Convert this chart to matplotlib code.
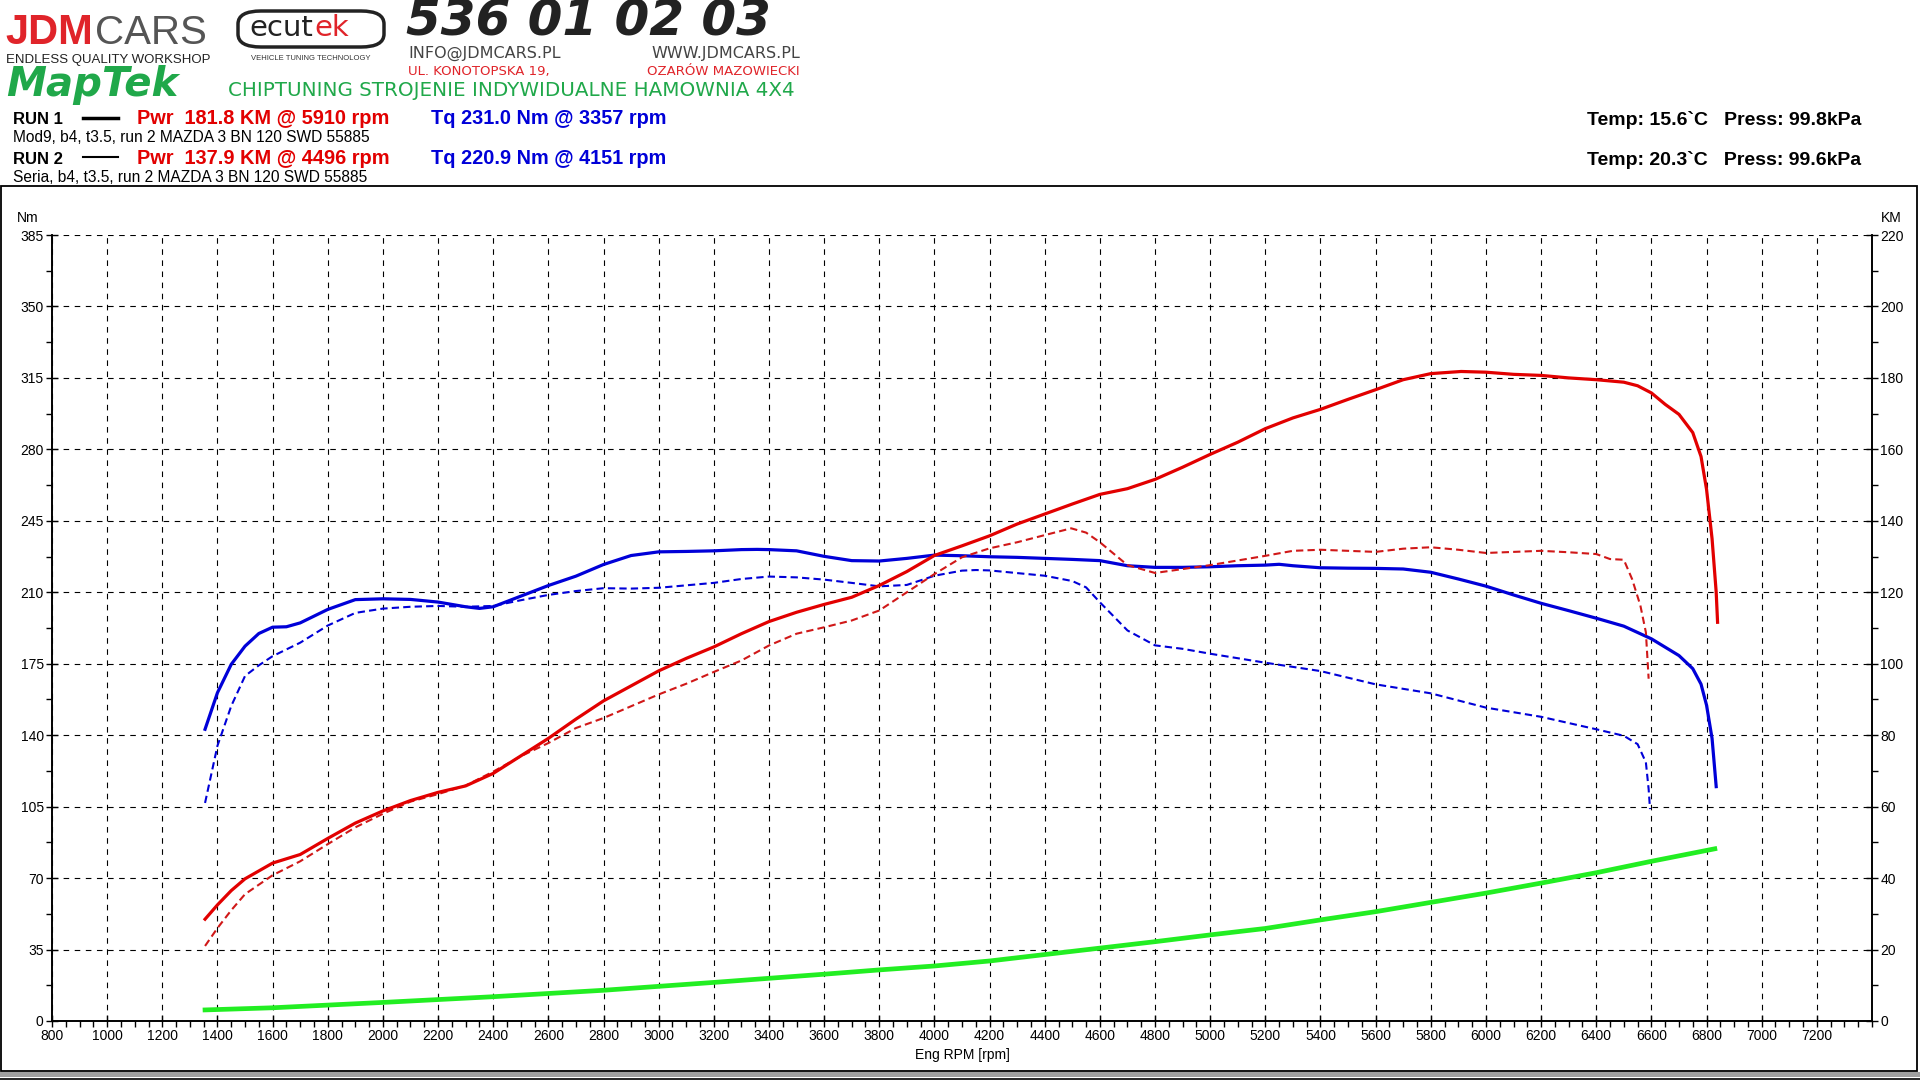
import numpy as np
import matplotlib
matplotlib.use("Agg")
import matplotlib.pyplot as plt
from matplotlib.patches import Rectangle, FancyBboxPatch
from matplotlib.lines import Line2D
from matplotlib.ticker import MultipleLocator

plt.rcParams['font.family'] = ['Liberation Sans', 'DejaVu Sans']

# ---- run 1 (Mod9) ----
run1_tq_rpm = [1355, 1400, 1450, 1500, 1550, 1600, 1650, 1700, 1800, 1900, 2000, 2100, 2200, 2300,
               2350, 2400, 2500, 2600, 2700, 2800, 2900, 3000, 3100, 3200, 3300, 3357, 3400, 3500,
               3600, 3700, 3800, 3900, 4000, 4100, 4200, 4300, 4400, 4500, 4600, 4700, 4800, 4900,
               5000, 5100, 5200, 5250, 5300, 5400, 5500, 5600, 5700, 5800, 5900, 6000, 6100, 6200,
               6300, 6400, 6500, 6600, 6700, 6750, 6780, 6800, 6820, 6835]
run1_tq = [142.9, 160.8, 174.7, 183.6, 189.8, 192.9, 193.1, 195.0, 201.6, 206.4, 206.8, 206.5, 205.2,
           202.9, 202.1, 202.9, 208.1, 213.3, 217.9, 223.6, 228.0, 229.8, 230.0, 230.3, 230.9, 231.0,
           230.9, 230.3, 227.6, 225.5, 225.3, 226.6, 228.2, 227.9, 227.4, 227.1, 226.6, 226.1, 225.5,
           223.0, 222.2, 222.2, 222.5, 223.0, 223.3, 223.7, 223.0, 222.0, 221.8, 221.7, 221.4, 219.8,
           216.5, 213.0, 208.7, 204.6, 201.0, 197.3, 193.4, 187.2, 179.0, 172.6, 165.0, 154.7, 138.4,
           114.8]

run1_pw_rpm = [1355, 1400, 1450, 1500, 1600, 1700, 1800, 1900, 2000, 2100, 2200, 2300, 2400, 2500,
               2600, 2700, 2800, 2900, 3000, 3100, 3200, 3300, 3400, 3500, 3600, 3700, 3800, 3900,
               4000, 4100, 4200, 4300, 4400, 4500, 4600, 4700, 4800, 4900, 5000, 5100, 5200, 5300,
               5400, 5500, 5600, 5700, 5800, 5910, 6000, 6100, 6200, 6300, 6400, 6500, 6550, 6600,
               6650, 6700, 6750, 6780, 6800, 6820, 6835, 6840]
run1_pw = [28.5, 32.5, 36.5, 39.8, 44.2, 46.6, 51.1, 55.4, 58.8, 61.7, 64.0, 65.8, 69.3, 74.2,
           79.1, 84.5, 89.6, 93.8, 98.0, 101.5, 104.7, 108.4, 111.8, 114.4, 116.6, 118.6, 121.9, 125.8,
           130.3, 133.0, 135.8, 139.1, 141.9, 144.7, 147.4, 149.0, 151.6, 155.0, 158.6, 162.0, 165.8,
           168.8, 171.2, 174.0, 176.7, 179.5, 181.2, 181.8, 181.6, 181.0, 180.7, 180.0, 179.5, 178.8,
           177.8, 175.8, 172.6, 169.8, 164.7, 158.0, 148.8, 135.0, 120.0, 111.6]

# ---- run 2 (Seria) ----
run2_tq_rpm = [1355, 1400, 1450, 1500, 1550, 1600, 1700, 1800, 1900, 2000, 2100, 2200, 2300, 2400,
               2500, 2600, 2700, 2800, 2900, 3000, 3100, 3200, 3300, 3400, 3500, 3600, 3700, 3800,
               3900, 4000, 4100, 4151, 4200, 4300, 4400, 4500, 4550, 4600, 4700, 4800, 4900, 5000,
               5200, 5400, 5600, 5800, 6000, 6200, 6400, 6500, 6550, 6580, 6590, 6595]
run2_tq = [106.8, 134.8, 154.3, 169.0, 174.2, 178.7, 185.3, 193.7, 199.9, 202.0, 202.9, 203.3, 202.9,
           203.3, 206.1, 208.7, 210.6, 212.0, 211.8, 212.2, 213.4, 214.6, 216.5, 217.7, 217.3, 216.2,
           214.6, 212.9, 213.6, 218.1, 220.6, 220.9, 220.7, 219.4, 218.1, 215.5, 212.4, 205.1, 191.3,
           184.0, 182.3, 179.9, 175.5, 171.4, 164.9, 160.5, 153.5, 149.0, 142.9, 139.7, 135.6, 126.7,
           113.6, 103.8]

run2_pw_rpm = [1355, 1400, 1450, 1500, 1600, 1700, 1800, 1900, 2000, 2100, 2200, 2300, 2400, 2500,
               2600, 2700, 2800, 2900, 3000, 3100, 3200, 3300, 3400, 3500, 3600, 3700, 3800, 3900,
               4000, 4100, 4200, 4300, 4400, 4496, 4550, 4600, 4700, 4800, 4900, 5000, 5200, 5300,
               5400, 5600, 5700, 5800, 5900, 6000, 6200, 6300, 6400, 6450, 6500, 6530, 6560, 6580,
               6590]
run2_pw = [21.0, 26.0, 31.0, 35.5, 40.8, 44.7, 49.5, 54.2, 58.0, 61.4, 63.5, 65.9, 69.8, 74.1,
           77.8, 82.0, 84.8, 88.1, 91.4, 94.4, 97.7, 100.9, 105.1, 108.4, 110.2, 112.1, 114.9, 120.0,
           125.1, 129.8, 132.3, 134.0, 136.0, 137.9, 136.7, 134.0, 127.6, 125.4, 126.5, 127.6, 130.2,
           131.6, 131.9, 131.3, 132.2, 132.6, 131.9, 131.0, 131.6, 131.2, 130.7, 129.3, 129.1, 123.7,
           116.3, 108.8, 95.8]

# ---- losses (green) ----
loss_rpm = [1355, 1600, 2000, 2400, 2800, 3200, 3600, 3800, 4000, 4200, 4400, 4600, 4800, 5000,
            5200, 5400, 5600, 5800, 6000, 6200, 6400, 6600, 6830]
loss_pw = [3.1, 3.7, 5.2, 6.8, 8.6, 10.8, 13.1, 14.3, 15.4, 16.8, 18.6, 20.4, 22.2, 24.1,
           25.9, 28.3, 30.6, 33.2, 35.8, 38.6, 41.5, 44.7, 48.2]

W, H = 1920, 1080


def px(x):
    return x / W


def py(y):
    return 1 - y / H


fig = plt.figure(figsize=(19.2, 10.8), dpi=100)
fig.patch.set_facecolor('white')

ax = fig.add_axes([px(52), py(1021), px(1872) - px(52), (1021 - 235) / H])
ax2 = ax.twinx()

blue = '#0000d8'
red = '#e20000'
red2 = '#d01818'
green = '#22ee22'

ax.plot(run2_tq_rpm, run2_tq, color=blue, lw=1.5, ls=(0, (3.5, 2)), zorder=3)
ax.plot(run1_tq_rpm, run1_tq, color=blue, lw=2.3, zorder=4)
ax2.plot(loss_rpm, loss_pw, color=green, lw=3.4, zorder=3)
ax2.plot(run2_pw_rpm, run2_pw, color=red2, lw=1.5, ls=(0, (3.5, 2)), zorder=4)
ax2.plot(run1_pw_rpm, run1_pw, color=red, lw=2.3, zorder=5)

ax.set_xlim(800, 7400)
ax.set_ylim(0, 385)
ax2.set_ylim(0, 220)
ax.set_xticks(np.arange(800, 7201, 200))
ax.xaxis.set_minor_locator(MultipleLocator(50))
ax.set_yticks(np.arange(0, 386, 35))
ax.yaxis.set_minor_locator(MultipleLocator(17.5))
ax2.set_yticks(np.arange(0, 221, 20))
ax2.yaxis.set_minor_locator(MultipleLocator(10))

for a in (ax, ax2):
    a.spines['top'].set_visible(False)
    for s in a.spines.values():
        s.set_linewidth(1.2)
        s.set_color('black')

ax.grid(True, which='major', color='black', lw=0.8, ls=(0, (5, 5)))
ax.tick_params(axis='both', which='major', direction='inout', length=8, width=1,
               labelsize=10, pad=2)
ax.tick_params(axis='both', which='minor', direction='out', length=4, width=1)
ax2.tick_params(axis='y', which='major', direction='inout', length=8, width=1,
                labelsize=10, pad=2)
ax2.tick_params(axis='y', which='minor', direction='out', length=4, width=1)

ax.set_xlabel('Eng RPM [rpm]', fontsize=10, labelpad=3)
fig.text(px(17), py(218), 'Nm', fontsize=10, ha='left', va='center')
fig.text(px(1881), py(218), 'KM', fontsize=10, ha='left', va='center')

# frame
fig.add_artist(Rectangle((px(1), py(1071)), px(1916), (1071 - 186) / H, fill=False,
                         lw=1.3, ec='black', transform=fig.transFigure))
fig.add_artist(Rectangle((0, py(1077)), 1, 5 / H, fc='#a0a0a0', ec='none',
                         transform=fig.transFigure))
fig.add_artist(Line2D([0, 1], [py(1079), py(1079)], color='black', lw=1.2,
                      transform=fig.transFigure))

# ---- header / logos ----
fig.text(px(5), py(44), 'JDM', fontsize=30, fontweight='bold', color='#e0242a',
         ha='left', va='baseline')
fig.text(px(95), py(44), 'CARS', fontsize=29, color='#555555',
         ha='left', va='baseline')
fig.text(px(6), py(63), 'ENDLESS QUALITY WORKSHOP', fontsize=9.5, color='#222222',
         ha='left', va='baseline')

fig.add_artist(FancyBboxPatch((px(238), py(47)), px(146), 36 / H,
                              boxstyle='round,pad=0,rounding_size=0.012',
                              fill=False, lw=2.5, ec='#222222', transform=fig.transFigure))
fig.text(px(313), py(36), 'ecut', fontsize=21, color='#222222', ha='right', va='baseline',
         family=['DejaVu Sans'])
fig.text(px(314), py(36), 'ek', fontsize=21, color='#e0242a', ha='left', va='baseline',
         family=['DejaVu Sans'])
fig.text(px(311), py(58), 'VEHICLE TUNING TECHNOLOGY', fontsize=5.5, color='#333333',
         ha='center', va='center')

fig.text(px(406), py(36), '536 01 02 03', fontsize=36, fontweight='bold', fontstyle='italic',
         color='#222222', family=['DejaVu Sans'], ha='left', va='baseline')
fig.text(px(408), py(58), 'INFO@JDMCARS.PL', fontsize=11.5, color='#444444',
         family=['DejaVu Sans'], ha='left', va='baseline')
fig.text(px(800), py(58), 'WWW.JDMCARS.PL', fontsize=11.5, color='#444444',
         family=['DejaVu Sans'], ha='right', va='baseline')
fig.text(px(408), py(75), 'UL. KONOTOPSKA 19,', fontsize=9.5, color='#e0242a',
         family=['DejaVu Sans'], ha='left', va='baseline')
fig.text(px(800), py(75), 'OZARÓW MAZOWIECKI', fontsize=9.5, color='#e0242a',
         family=['DejaVu Sans'], ha='right', va='baseline')

fig.text(px(6), py(96), 'MapTek', fontsize=29, fontweight='bold', fontstyle='italic',
         color='#20a84a', family=['DejaVu Sans'], ha='left', va='baseline')
fig.text(px(228), py(96), 'CHIPTUNING STROJENIE INDYWIDUALNE HAMOWNIA 4X4', fontsize=14.3,
         color='#20a84a', family=['DejaVu Sans'], ha='left', va='baseline')

# ---- run info ----
fig.text(px(13), py(119), 'RUN 1', fontsize=12, fontweight='bold', ha='left', va='center')
fig.add_artist(Line2D([px(83), px(118)], [py(118), py(118)], color='black', lw=2.5,
                      transform=fig.transFigure))
fig.text(px(137), py(119), 'Pwr  181.8 KM @ 5910 rpm', fontsize=14.4, fontweight='bold',
         color=red, ha='left', va='center')
fig.text(px(431), py(119), 'Tq 231.0 Nm @ 3357 rpm', fontsize=14.3, fontweight='bold',
         color=blue, ha='left', va='center')
fig.text(px(13), py(138), 'Mod9, b4, t3.5, run 2 MAZDA 3 BN 120 SWD 55885', fontsize=11.2,
         ha='left', va='center')

fig.text(px(13), py(159), 'RUN 2', fontsize=12, fontweight='bold', ha='left', va='center')
fig.add_artist(Line2D([px(83), px(118)], [py(157), py(157)], color='black', lw=1.5,
                      transform=fig.transFigure))
fig.text(px(137), py(158), 'Pwr  137.9 KM @ 4496 rpm', fontsize=14.4, fontweight='bold',
         color=red, ha='left', va='center')
fig.text(px(431), py(158), 'Tq 220.9 Nm @ 4151 rpm', fontsize=14.3, fontweight='bold',
         color=blue, ha='left', va='center')
fig.text(px(13), py(177), 'Seria, b4, t3.5, run 2 MAZDA 3 BN 120 SWD 55885', fontsize=11.2,
         ha='left', va='center')

fig.text(px(1587), py(120), 'Temp: 15.6`C   Press: 99.8kPa', fontsize=14, fontweight='bold',
         ha='left', va='center')
fig.text(px(1587), py(160), 'Temp: 20.3`C   Press: 99.6kPa', fontsize=14, fontweight='bold',
         ha='left', va='center')

fig.savefig('out.png', dpi=100, facecolor='white')
